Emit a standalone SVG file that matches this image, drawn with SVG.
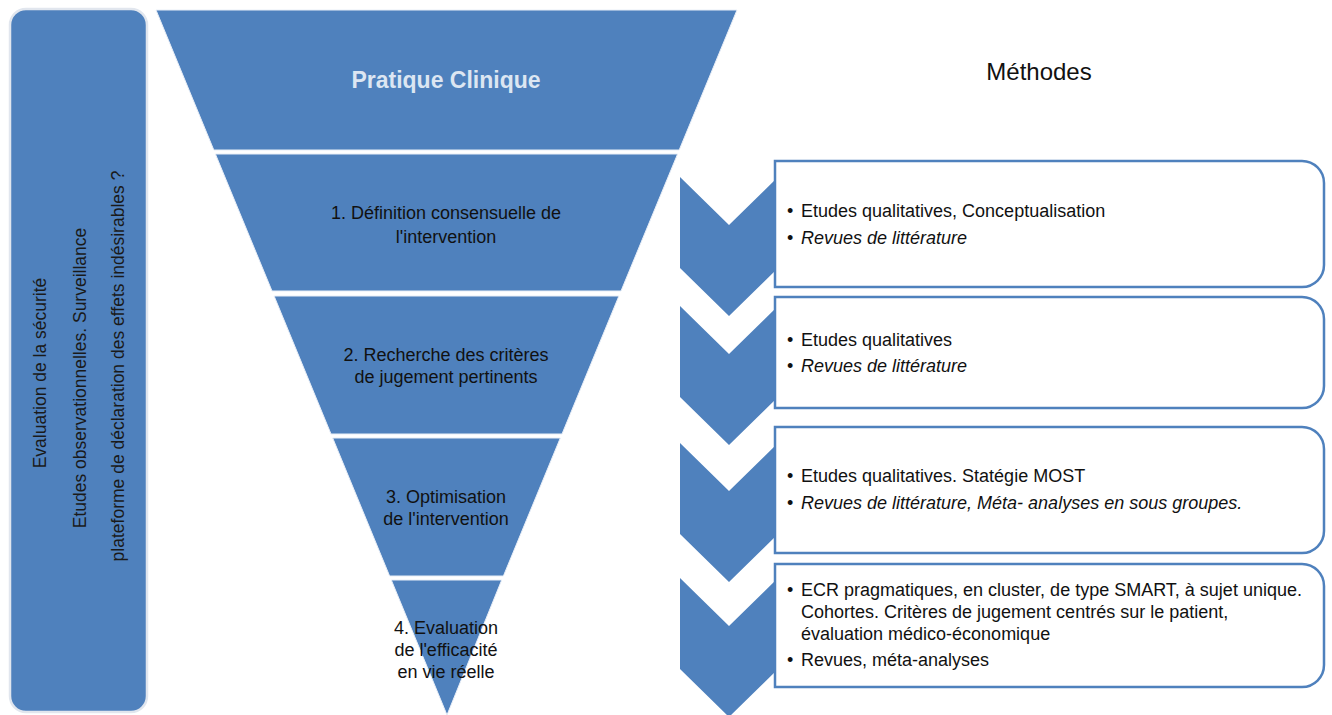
<svg xmlns="http://www.w3.org/2000/svg" width="1332" height="715" viewBox="0 0 1332 715">
<style>
.blue{fill:#4f81bd}
.band{fill:#4f81bd;stroke:#e8eef7;stroke-width:1}
.t{font-family:"Liberation Sans",Arial,sans-serif;fill:#111}
.bt{font-size:18px;text-anchor:middle}
.side{font-size:17.5px;text-anchor:middle;fill:#1a1a1a}
.box{fill:#fff;stroke:#4f81bd;stroke-width:2.5}
.bx{font-size:18px}
.it{font-style:italic}
.chev{fill:#4f81bd}
</style>
<rect width="1332" height="715" fill="#fff"/>

<g id="safety">
  <rect x="10" y="9" width="137" height="703" rx="16" class="blue" stroke="#e1e6ee" stroke-width="2.5"/>
  <text class="t side" transform="translate(46,373) rotate(-90)">Evaluation de la sécurité</text>
  <text class="t side" transform="translate(86,378) rotate(-90)">Etudes observationnelles. Surveillance</text>
  <text class="t side" transform="translate(124,366) rotate(-90)">plateforme de déclaration des effets indésirables ?</text>
</g>

<g id="pratique">
  <polygon class="band" points="156,10 737,10 679.2,150 213.8,150"/>
  <text x="446" y="88" font-family="Liberation Sans,Arial,sans-serif" font-size="23" font-weight="bold" fill="#dce6f2" text-anchor="middle">Pratique Clinique</text>
</g>
<g id="step1">
  <polygon class="band" points="215.4,154 677.6,154 621,291 272,291"/>
  <text class="t bt" x="446" y="219">1. Définition consensuelle de</text>
  <text class="t bt" x="446" y="243">l'intervention</text>
</g>
<g id="step2">
  <polygon class="band" points="274.1,296 618.9,296 562,434 331,434"/>
  <text class="t bt" x="446" y="361">2. Recherche des critères</text>
  <text class="t bt" x="446" y="383">de jugement pertinents</text>
</g>
<g id="step3">
  <polygon class="band" points="332.7,438 560.3,438 503.4,576 389.6,576"/>
  <text class="t bt" x="446" y="503">3. Optimisation</text>
  <text class="t bt" x="446" y="525">de l'intervention</text>
</g>
<g id="step4">
  <polygon class="band" points="391.3,580 501.7,580 447,715"/>
  <text class="t bt" x="446" y="634">4. Evaluation</text>
  <text class="t bt" x="446" y="656">de l'efficacité</text>
  <text class="t bt" x="446" y="678">en vie réelle</text>
</g>

<g id="methodes-title">
  <text x="1039" y="80" font-family="Liberation Sans,Arial,sans-serif" font-size="24" fill="#111" text-anchor="middle">Méthodes</text>
</g>

<g id="connectors">
  <polygon class="chev" points="680,177 729,225 778,177 778,268 729,316 680,268"/>
  <polygon class="chev" points="680,306 729,354 778,306 778,397 729,445 680,397"/>
  <polygon class="chev" points="680,443 729,491 778,443 778,534 729,582 680,534"/>
  <polygon class="chev" points="680,578 729,626 778,578 778,669 729,717 680,669"/>
</g>

<g id="method1">
  <path class="box" d="M775,161 H1302 A22,22 0 0 1 1324,183 V265 A22,22 0 0 1 1302,287 H775 Z"/>
  <text class="t bx" x="787" y="217">•</text>
  <text class="t bx" x="801" y="217">Etudes qualitatives, Conceptualisation</text>
  <text class="t bx" x="787" y="244">•</text>
  <text class="t bx it" x="801" y="244">Revues de littérature</text>
</g>
<g id="method2">
  <path class="box" d="M775,297 H1302 A22,22 0 0 1 1324,319 V386 A22,22 0 0 1 1302,408 H775 Z"/>
  <text class="t bx" x="787" y="346">•</text>
  <text class="t bx" x="801" y="346">Etudes qualitatives</text>
  <text class="t bx" x="787" y="372">•</text>
  <text class="t bx it" x="801" y="372">Revues de littérature</text>
</g>
<g id="method3">
  <path class="box" d="M775,427 H1302 A22,22 0 0 1 1324,449 V531 A22,22 0 0 1 1302,553 H775 Z"/>
  <text class="t bx" x="787" y="482">•</text>
  <text class="t bx" x="801" y="482">Etudes qualitatives. Statégie MOST</text>
  <text class="t bx" x="787" y="509">•</text>
  <text class="t bx it" x="801" y="509">Revues de littérature, Méta- analyses en sous groupes.</text>
</g>
<g id="method4">
  <path class="box" d="M775,564 H1302 A22,22 0 0 1 1324,586 V665 A22,22 0 0 1 1302,687 H775 Z"/>
  <text class="t bx" x="787" y="596">•</text>
  <text class="t bx" x="801" y="596">ECR pragmatiques, en cluster, de type SMART, à sujet unique.</text>
  <text class="t bx" x="801" y="618">Cohortes. Critères de jugement centrés sur le patient,</text>
  <text class="t bx" x="801" y="640">évaluation médico-économique</text>
  <text class="t bx" x="787" y="666">•</text>
  <text class="t bx" x="801" y="666">Revues, méta-analyses</text>
</g>
</svg>
